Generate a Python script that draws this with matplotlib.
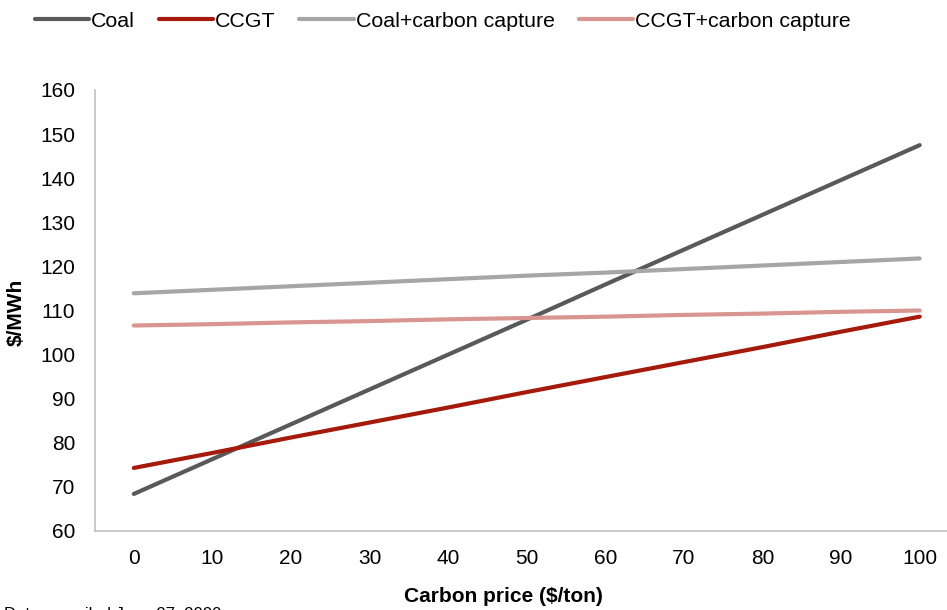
import matplotlib
matplotlib.use("Agg")
import matplotlib.pyplot as plt

plt.rcParams['font.family'] = ['Liberation Sans', 'DejaVu Sans']

carbon_price = [0, 10, 20, 30, 40, 50, 60, 70, 80, 90, 100]
coal = [68.4, 76.3, 84.2, 92.1, 100.0, 107.9, 115.9, 123.8, 131.7, 139.6, 147.5]
ccgt = [74.3, 77.7, 81.2, 84.6, 88.0, 91.5, 94.9, 98.3, 101.7, 105.2, 108.6]
coal_ccs = [113.9, 114.7, 115.5, 116.3, 117.1, 117.9, 118.6, 119.4, 120.2, 121.0, 121.8]
ccgt_ccs = [106.6, 106.9, 107.3, 107.6, 108.0, 108.3, 108.6, 109.0, 109.3, 109.7, 110.0]
series_names = ["Coal", "CCGT", "Coal+carbon capture", "CCGT+carbon capture"]
colors = ["#595959", "#A51A0A", "#A6A6A6", "#D9958F"]
y_ticks = [60, 70, 80, 90, 100, 110, 120, 130, 140, 150, 160]

W, H = 947, 610
fig = plt.figure(figsize=(W / 100, H / 100), dpi=100)
left, right, top, bottom = 94.5, 959, 90, 531
ax = fig.add_axes([left / W, 1 - bottom / H, (right - left) / W, (bottom - top) / H])

for vals, name, c in zip([coal, ccgt, coal_ccs, ccgt_ccs], series_names, colors):
    ax.plot(carbon_price, vals, color=c, lw=3, label=name, solid_capstyle='round')

ax.set_xlim(-5, 105)
ax.set_ylim(60, 160)
ax.set_xticks(carbon_price)
ax.set_yticks(y_ticks)
ax.tick_params(length=0, labelsize=15, colors='black')
ax.tick_params(axis='x', pad=13)
ax.tick_params(axis='y', pad=14)
for s in ['top', 'right']:
    ax.spines[s].set_visible(False)
for s in ['left', 'bottom']:
    ax.spines[s].set_color('#BFBFBF')
    ax.spines[s].set_linewidth(1.2)

fig.text(16 / W, 1 - 312 / H, "$/MWh", rotation=90, fontsize=15, fontweight='bold',
         ha='center', va='center')
fig.text(503 / W, 1 - 597 / H, "Carbon price ($/ton)", fontsize=15, fontweight='bold',
         ha='center', va='center')
fig.text(4 / W, 1 - 615 / H, "Data compiled June 27, 2020", fontsize=12, ha='left',
         va='center')

handles, labels = ax.get_legend_handles_labels()
fig.legend(handles, labels, loc='upper left', bbox_to_anchor=(26 / W, 1 - 3 / H),
           ncol=4, frameon=False, fontsize=15.4, handlelength=2.55, handletextpad=0.1,
           columnspacing=1.1, borderaxespad=0)

fig.savefig("out.png", dpi=100)
